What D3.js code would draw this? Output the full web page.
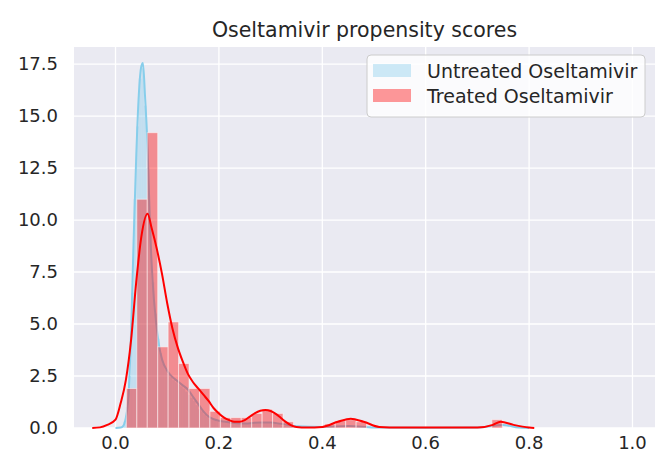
<!DOCTYPE html>
<html>
<head>
<meta charset="utf-8">
<script src="https://cdn.jsdelivr.net/npm/d3@7"></script>
<style>
  body { margin: 0; background: #fff; }
  text { font-family: "DejaVu Sans", sans-serif; fill: #262626; }
</style>
</head>
<body>
<svg id="chart" width="655" height="462"></svg>
<script>
// histogram bins (density) and kde curves
var treatedBinStart = 0.021, treatedBinWidth = 0.0202;
var treatedDensity = [1.9, 11.0, 14.2, 3.9, 5.1, 3.1, 1.9, 1.9, 0.8, 0.5, 0.5, 0.5, 0.7, 0.9, 0.7, 0.3,
  0, 0, 0, 0.2, 0.35, 0.4, 0.3, 0, 0, 0, 0, 0, 0, 0, 0, 0, 0, 0, 0, 0.4];

var untreatedBinStart = 0.015, untreatedBinWidth = 0.005;
var untreatedDensity = [0.3, 1.0, 2.5, 6.5, 11.0, 14.5, 16.8, 17.3, 15.5, 12.5, 9.5, 7.0, 5.5, 4.3,
  3.6, 3.1, 2.8, 2.6, 2.45, 2.3, 2.2, 2.1, 2.0, 1.9, 1.75, 1.6, 1.45, 1.3, 1.1, 0.9, 0.8, 0.65,
  0.55, 0.45, 0.4, 0.35, 0.32, 0.3, 0.28, 0.26, 0.25, 0.24, 0.23, 0.22, 0.22, 0.21, 0.21,
  0.22, 0.23, 0.24, 0.26, 0.27, 0.28, 0.28, 0.27, 0.26, 0.24, 0.22, 0.2, 0.17, 0.14, 0.12, 0.1,
  0.08, 0.07, 0.06, 0.05];

var untreatedKdeX = [0.0, 0.01, 0.015, 0.02, 0.025, 0.03, 0.035, 0.04, 0.045, 0.05, 0.053, 0.057,
  0.062, 0.067, 0.072, 0.078, 0.084, 0.09, 0.1, 0.11, 0.12, 0.13, 0.14, 0.15, 0.16, 0.17, 0.18,
  0.19, 0.2, 0.22, 0.25, 0.28, 0.3, 0.32, 0.35, 0.4, 0.45, 0.5, 0.6, 0.7, 0.75, 0.78, 0.8];
var untreatedKdeY = [0, 0.02, 0.1, 0.5, 1.5, 4.5, 9.0, 13.0, 16.0, 17.4, 17.55, 16.0,
  13.5, 9.5, 7.0, 5.2, 4.0, 3.3, 2.75, 2.45, 2.25, 2.05, 1.85, 1.5, 1.15, 0.8, 0.55,
  0.42, 0.35, 0.27, 0.22, 0.27, 0.26, 0.2, 0.09, 0.05, 0.1, 0.03, 0.01, 0.02, 0.15, 0.02, 0];

var treatedKdeX = [-0.045, -0.03, -0.016, 0.0, 0.01, 0.02, 0.03, 0.04, 0.05, 0.062, 0.07, 0.08,
  0.09, 0.1, 0.11, 0.12, 0.13, 0.14, 0.15, 0.16, 0.17, 0.18, 0.19, 0.2, 0.21, 0.22, 0.23, 0.24,
  0.25, 0.26, 0.27, 0.28, 0.29, 0.3, 0.31, 0.32, 0.33, 0.34, 0.35, 0.37, 0.4, 0.43, 0.455, 0.48,
  0.51, 0.55, 0.7, 0.73, 0.745, 0.77, 0.8, 0.81];
var treatedKdeY = [0, 0.03, 0.15, 0.4, 1.2, 2.3, 4.2, 7.0, 9.2, 10.3, 9.6, 8.6,
  7.4, 6.0, 4.8, 3.9, 3.2, 2.6, 2.2, 1.9, 1.6, 1.3, 0.95, 0.7, 0.5, 0.38, 0.3, 0.3,
  0.38, 0.55, 0.72, 0.83, 0.87, 0.82, 0.68, 0.48, 0.28, 0.13, 0.05, 0.02, 0.05, 0.3, 0.45, 0.3,
  0.05, 0.02, 0.02, 0.15, 0.3, 0.15, 0.02, 0];

var xTicks = [0, 0.2, 0.4, 0.6, 0.8, 1.0];
var yTicks = [0, 2.5, 5, 7.5, 10, 12.5, 15, 17.5];
var legendLabels = ["Untreated Oseltamivir", "Treated Oseltamivir"];

var svg = d3.select("#chart"),
  margin = { top: 47, right: 0, bottom: 34, left: 74 },
  width = +svg.attr("width"),
  height = +svg.attr("height");

var x = d3.scaleLinear()
  .domain([-0.0803, 1.0455])
  .range([margin.left, width + 1]);

var y = d3.scaleLinear()
  .domain([0, 18.32])
  .range([height - margin.bottom, margin.top]);

var blue = "#87ceeb", red = "#ff0000";

svg.append("rect")
  .attr("x", margin.left)
  .attr("y", margin.top)
  .attr("width", width - margin.left)
  .attr("height", height - margin.bottom - margin.top)
  .attr("fill", "#eaeaf2");

// grid
svg.append("g").selectAll("line")
  .data(xTicks).enter().append("line")
  .attr("x1", d => x(d)).attr("x2", d => x(d))
  .attr("y1", margin.top).attr("y2", height - margin.bottom)
  .attr("stroke", "#fff").attr("stroke-width", 1.3);

svg.append("g").selectAll("line")
  .data(yTicks).enter().append("line")
  .attr("x1", margin.left).attr("x2", width)
  .attr("y1", d => y(d)).attr("y2", d => y(d))
  .attr("stroke", "#fff").attr("stroke-width", 1.3);

// tick labels
svg.append("g").selectAll("text")
  .data(xTicks).enter().append("text")
  .attr("x", d => x(d))
  .attr("y", height - margin.bottom + 21)
  .attr("text-anchor", "middle")
  .style("font-size", "18px")
  .text(d3.format(".1f"));

svg.append("g").selectAll("text")
  .data(yTicks).enter().append("text")
  .attr("x", margin.left - 16)
  .attr("y", d => y(d))
  .attr("dy", "0.35em")
  .attr("text-anchor", "end")
  .style("font-size", "18px")
  .text(d3.format(".1f"));

var plot = svg.append("g");

// untreated histogram + kde
plot.selectAll(".ubar")
  .data(untreatedDensity).enter().append("rect")
  .attr("class", "ubar")
  .attr("x", (d, i) => x(untreatedBinStart + i * untreatedBinWidth))
  .attr("width", (d, i) => x(untreatedBinStart + (i + 1) * untreatedBinWidth) - x(untreatedBinStart + i * untreatedBinWidth))
  .attr("y", d => y(d))
  .attr("height", d => y(0) - y(d))
  .attr("fill", blue)
  .attr("fill-opacity", 0.4);

var line = d3.line()
  .curve(d3.curveMonotoneX)
  .x(d => x(d[0]))
  .y(d => y(d[1]));

plot.append("path")
  .datum(d3.zip(untreatedKdeX, untreatedKdeY))
  .attr("d", line)
  .attr("fill", "none")
  .attr("stroke", blue)
  .attr("stroke-width", 2);

// treated histogram + kde
plot.selectAll(".tbar")
  .data(treatedDensity).enter().append("rect")
  .attr("class", "tbar")
  .attr("x", (d, i) => x(treatedBinStart + i * treatedBinWidth))
  .attr("width", (d, i) => x(treatedBinStart + (i + 1) * treatedBinWidth) - x(treatedBinStart + i * treatedBinWidth))
  .attr("y", d => y(d))
  .attr("height", d => y(0) - y(d))
  .attr("fill", red)
  .attr("fill-opacity", 0.4)
  .attr("stroke", "#fff")
  .attr("stroke-opacity", 0.5)
  .attr("stroke-width", 1);

plot.append("path")
  .datum(d3.zip(treatedKdeX, treatedKdeY))
  .attr("d", line)
  .attr("fill", "none")
  .attr("stroke", red)
  .attr("stroke-width", 2);

// title
svg.append("text")
  .attr("x", (margin.left + width) / 2)
  .attr("y", 37)
  .attr("text-anchor", "middle")
  .style("font-size", "20.5px")
  .text("Oseltamivir propensity scores");

// legend
const legend_x = 367, legend_y = 55;
svg.append("rect")
  .attr("x", legend_x).attr("y", legend_y)
  .attr("width", 278).attr("height", 62)
  .attr("rx", 4)
  .attr("fill", "#fff").attr("fill-opacity", 0.8)
  .attr("stroke", "#ccc").attr("stroke-width", 1);

var lg = svg.append("g").selectAll("g")
  .data(legendLabels).enter().append("g")
  .attr("transform", (d, i) => "translate(" + legend_x + "," + (legend_y + 9 + i * 25) + ")");

lg.append("rect")
  .attr("x", 6).attr("width", 38).attr("height", 13)
  .attr("fill", (d, i) => i ? red : blue)
  .attr("fill-opacity", 0.4);

lg.append("text")
  .attr("x", 60).attr("y", 7)
  .attr("dy", "0.35em")
  .style("font-size", "19px")
  .text(d => d);
</script>
</body>
</html>
